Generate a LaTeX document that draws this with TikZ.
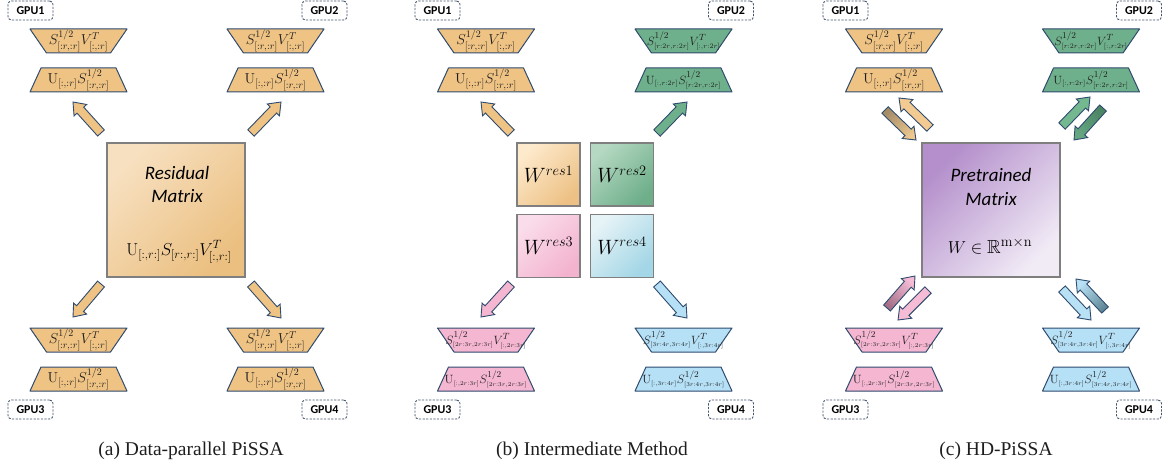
\documentclass[tikz,border=0pt]{standalone}
\usepackage{amsmath,amssymb}
\usepackage[no-math]{fontspec}
\setmainfont{Liberation Serif}
\newfontfamily\calibrifont{Carlito}
\usetikzlibrary{calc}

\definecolor{navy}{HTML}{2F4B6E}
\definecolor{gpuline}{HTML}{44546A}
\definecolor{boxline}{HTML}{7F7F7F}
\definecolor{inkc}{HTML}{1E1E1E}
\definecolor{orangeF}{HTML}{EFC384}
\definecolor{greenF}{HTML}{6FB08C}
\definecolor{pinkF}{HTML}{F4B6D0}
\definecolor{blueF}{HTML}{B5E0F6}
\definecolor{resLight}{HTML}{F7E0C0}
\definecolor{resDark}{HTML}{EBBF80}
\definecolor{purDark}{HTML}{B48FCB}
\definecolor{purLight}{HTML}{F1EBF6}
\definecolor{wOneL}{HTML}{FDE9CB}
\definecolor{wOneD}{HTML}{EDC185}
\definecolor{wTwoL}{HTML}{B5D8C2}
\definecolor{wTwoD}{HTML}{6EAF8A}
\definecolor{wThreeL}{HTML}{FADDEA}
\definecolor{wThreeD}{HTML}{F3B3CF}
\definecolor{wFourL}{HTML}{E6F3F7}
\definecolor{wFourD}{HTML}{A3D6E6}
\definecolor{oLight}{HTML}{F2CA92}
\definecolor{oDark}{HTML}{A58B66}
\definecolor{oHead}{HTML}{ECC78E}
\definecolor{gLight}{HTML}{74B890}
\definecolor{gDark}{HTML}{4A8463}
\definecolor{gHead}{HTML}{66A782}
\definecolor{pLight}{HTML}{F6BCD5}
\definecolor{pDark}{HTML}{A56F88}
\definecolor{bLight}{HTML}{B9E1F5}
\definecolor{bDark}{HTML}{5F8797}

% wide side on top
\newcommand\trapdown[4]{%
  \begin{scope}[shift={(#2)}]
    \path[trapline,fill=#3] (-48.5,-12) -- (48.5,-12) -- (32,12) -- (-32,12) -- cycle;
    \node[traplabel] (#1) at (0,0) {#4};
  \end{scope}}
% wide side at the bottom
\newcommand\trapup[4]{%
  \begin{scope}[shift={(#2)}]
    \path[trapline,fill=#3] (-37.5,-12) -- (37.5,-12) -- (48.5,12) -- (-48.5,12) -- cycle;
    \node[traplabel] (#1) at (0,0) {#4};
  \end{scope}}
% block arrow from a tail coordinate to a tip coordinate
\newcommand\blockarrow[3]{%
  \coordinate (hb) at ($(#2)!11pt!(#1)$);
  \path[arrowline,#3] ($(#1)!4.5pt!90:(#2)$) -- ($(hb)!4.5pt!90:(#2)$)
    -- ($(hb)!8.5pt!90:(#2)$) -- (#2) -- ($(hb)!8.5pt!-90:(#2)$)
    -- ($(hb)!4.5pt!-90:(#2)$) -- ($(#1)!4.5pt!-90:(#2)$) -- cycle;}
% index set in a fixed small size
\newcommand\ssub[2]{\mbox{\fontsize{#1}{#1}\selectfont$#2$}}

\newcommand\orangeTop{\fontsize{14}{14}\selectfont$S^{1/2}_{[:r,:r]}V^{T}_{[:,:r]}$}
\newcommand\orangeBot{\fontsize{14}{14}\selectfont$\mathrm{U}_{[:,:r]}S^{1/2}_{[:r,:r]}$}
\newcommand\greenTop{\fontsize{13}{13}\selectfont$S^{1/2}_{\ssub{7.2}{[r{:}2r{,}r{:}2r]}}V^{T}_{\ssub{7.2}{[{:}{,}r{:}2r]}}$}
\newcommand\greenBot{\fontsize{13}{13}\selectfont$\mathrm{U}_{\ssub{7.2}{[{:}{,}r{:}2r]}}S^{1/2}_{\ssub{7.2}{[r{:}2r{,}r{:}2r]}}$}
\newcommand\pinkTop{\fontsize{12.5}{12.5}\selectfont$S^{1/2}_{\ssub{6.3}{[2r{:}3r{,}2r{:}3r]}}V^{T}_{\ssub{6.3}{[{:}{,}2r{:}3r]}}$}
\newcommand\pinkBot{\fontsize{12.5}{12.5}\selectfont$\mathrm{U}_{\ssub{6.3}{[{:}{,}2r{:}3r]}}S^{1/2}_{\ssub{6.3}{[2r{:}3r{,}2r{:}3r]}}$}
\newcommand\blueTop{\fontsize{12.5}{12.5}\selectfont$S^{1/2}_{\ssub{6.3}{[3r{:}4r{,}3r{:}4r]}}V^{T}_{\ssub{6.3}{[{:}{,}3r{:}4r]}}$}
\newcommand\blueBot{\fontsize{12.5}{12.5}\selectfont$\mathrm{U}_{\ssub{6.3}{[{:}{,}3r{:}4r]}}S^{1/2}_{\ssub{6.3}{[3r{:}4r{,}3r{:}4r]}}$}

\begin{document}
\begin{tikzpicture}[x=1pt,y=-1pt,
  trapline/.style={draw=navy,line width=1pt,line join=round},
  traplabel/.style={inner sep=0pt,text=inkc},
  arrowline/.style={draw=navy,line width=0.9pt,line join=miter},
  gpu/.style={draw=gpuline,fill=white,line width=0.9pt,dash pattern=on 2.2pt off 1.4pt,
    rounded corners=3.5pt,minimum width=45pt,minimum height=19pt,inner sep=0pt,
    font=\calibrifont\bfseries\fontsize{12}{12}\selectfont},
  bigbox/.style={draw=boxline,line width=1.3pt,minimum width=138pt,minimum height=134pt,inner sep=0pt},
  wbox/.style={draw=boxline,line width=1.3pt,minimum size=63pt,inner sep=0pt},
  boxtitle/.style={anchor=base,inner sep=0pt,font=\calibrifont\itshape\fontsize{19}{19}\selectfont},
  boxmath/.style={anchor=base,inner sep=0pt,font=\fontsize{18}{18}\selectfont},
  wlabel/.style={inner sep=0pt,font=\fontsize{21}{21}\selectfont},
  caption/.style={anchor=base,inner sep=0pt,text=inkc,font=\fontsize{19.5}{20}\selectfont}]
\useasboundingbox (0,0) rectangle (1166,468);

% ---------------- (a) Data-parallel PiSSA ----------------
\node[gpu] (aG1) at (30.5,10.5) {GPU1};
\node[gpu] (aG2) at (324.5,10.5) {GPU2};
\node[gpu] (aG3) at (30.5,409.5) {GPU3};
\node[gpu] (aG4) at (324.5,409.5) {GPU4};
\trapdown{aS1}{78.5,41}{orangeF}{\orangeTop}
\trapup{aU1}{78.5,80}{orangeF}{\orangeBot}
\trapdown{aS2}{275.5,41}{orangeF}{\orangeTop}
\trapup{aU2}{275.5,80}{orangeF}{\orangeBot}
\trapdown{aS3}{78.5,340}{orangeF}{\orangeTop}
\trapup{aU3}{78.5,379}{orangeF}{\orangeBot}
\trapdown{aS4}{275.5,340}{orangeF}{\orangeTop}
\trapup{aU4}{275.5,379}{orangeF}{\orangeBot}
\node[bigbox,top color=resLight,bottom color=resDark,shading angle=45] (resid) at (176,210) {};
\node[boxtitle] (residT1) at (177,179) {Residual};
\node[boxtitle] (residT2) at (177,202) {Matrix};
\node[boxmath] (residF) at (179,255) {$\mathrm{U}_{[:,r:]}S_{[r:,r:]}V^{T}_{[:,r:]}$};
\coordinate (aT1) at (101,133); \coordinate (aH1) at (73,102);
\coordinate (aT2) at (251,133); \coordinate (aH2) at (281,102);
\coordinate (aT3) at (101,284); \coordinate (aH3) at (73,317);
\coordinate (aT4) at (251,284); \coordinate (aH4) at (281,318);
\blockarrow{aT1}{aH1}{fill=orangeF}
\blockarrow{aT2}{aH2}{fill=orangeF}
\blockarrow{aT3}{aH3}{fill=orangeF}
\blockarrow{aT4}{aH4}{fill=orangeF}
\node[caption] (capA) at (191,455) {(a) Data-parallel PiSSA};

% ---------------- (b) Intermediate Method ----------------
\node[gpu] (bG1) at (437.5,10.5) {GPU1};
\node[gpu] (bG2) at (731,10.5) {GPU2};
\node[gpu] (bG3) at (437.5,409.5) {GPU3};
\node[gpu] (bG4) at (731,409.5) {GPU4};
\trapdown{bS1}{486,41}{orangeF}{\orangeTop}
\trapup{bU1}{486,80}{orangeF}{\orangeBot}
\trapdown{bS2}{683.5,41}{greenF}{\greenTop}
\trapup{bU2}{683.5,80}{greenF}{\greenBot}
\trapdown{bS3}{486,340}{pinkF}{\pinkTop}
\trapup{bU3}{486,379}{pinkF}{\pinkBot}
\trapdown{bS4}{683.5,340}{blueF}{\blueTop}
\trapup{bU4}{683.5,379}{blueF}{\blueBot}
\node[wbox,top color=wOneL,bottom color=wOneD,shading angle=45] (w1) at (548.5,174.5) {};
\node[wbox,top color=wTwoL,bottom color=wTwoD,shading angle=45] (w2) at (622,174.5) {};
\node[wbox,top color=wThreeL,bottom color=wThreeD,shading angle=45] (w3) at (548.5,246) {};
\node[wbox,top color=wFourL,bottom color=wFourD,shading angle=45] (w4) at (622,246) {};
\node[wlabel] (w1t) at (w1) {$W^{res1}$};
\node[wlabel] (w2t) at (w2) {$W^{res2}$};
\node[wlabel] (w3t) at (w3) {$W^{res3}$};
\node[wlabel] (w4t) at (w4) {$W^{res4}$};
\coordinate (bT1) at (511,133); \coordinate (bH1) at (481,102);
\coordinate (bT2) at (657,133); \coordinate (bH2) at (687,102);
\coordinate (bT3) at (511,284); \coordinate (bH3) at (481,317);
\coordinate (bT4) at (657,284); \coordinate (bH4) at (687,318);
\blockarrow{bT1}{bH1}{fill=orangeF}
\blockarrow{bT2}{bH2}{fill=greenF}
\blockarrow{bT3}{bH3}{fill=pinkF}
\blockarrow{bT4}{bH4}{fill=blueF}
\node[caption] (capB) at (592,455) {(b) Intermediate Method};

% ---------------- (c) HD-PiSSA ----------------
\node[gpu] (cG1) at (845.5,10.5) {GPU1};
\node[gpu] (cG2) at (1139,10.5) {GPU2};
\node[gpu] (cG3) at (845.5,409.5) {GPU3};
\node[gpu] (cG4) at (1139,409.5) {GPU4};
\trapdown{cS1}{894,41}{orangeF}{\orangeTop}
\trapup{cU1}{894,80}{orangeF}{\orangeBot}
\trapdown{cS2}{1091,41}{greenF}{\greenTop}
\trapup{cU2}{1091,80}{greenF}{\greenBot}
\trapdown{cS3}{894,340}{pinkF}{\pinkTop}
\trapup{cU3}{894,379}{pinkF}{\pinkBot}
\trapdown{cS4}{1091,340}{blueF}{\blueTop}
\trapup{cU4}{1091,379}{blueF}{\blueBot}
\node[bigbox,top color=purDark,bottom color=purLight,shading angle=45] (pre) at (991,210) {};
\node[boxtitle] (preT1) at (991,181) {Pretrained};
\node[boxtitle] (preT2) at (991,205) {Matrix};
\node[boxmath,font=\fontsize{19}{19}\selectfont] (preF) at (990,253) {$W\in\mathbb{R}^{\mathrm{m\times n}}$};
% gather (light) and scatter (shaded) arrow pairs
\coordinate (cT1) at (930,128);  \coordinate (cH1) at (899,98);
\coordinate (cT1d) at (885,110); \coordinate (cH1d) at (916,140);
\coordinate (cT2) at (1062,126); \coordinate (cH2) at (1090,97);
\coordinate (cT2d) at (1103,108); \coordinate (cH2d) at (1074,140);
\coordinate (cT3) at (928,290);  \coordinate (cH3) at (898,320);
\coordinate (cT3d) at (887,308); \coordinate (cH3d) at (915,276);
\coordinate (cT4) at (1062,289); \coordinate (cH4) at (1091,320);
\coordinate (cT4d) at (1105,310); \coordinate (cH4d) at (1076,279);
\blockarrow{cT1}{cH1}{fill=oLight}
\blockarrow{cT1d}{cH1d}{top color=oDark,bottom color=oHead,shading angle=45}
\blockarrow{cT2}{cH2}{fill=gLight}
\blockarrow{cT2d}{cH2d}{top color=gDark,bottom color=gHead,shading angle=-45}
\blockarrow{cT3}{cH3}{fill=pLight}
\blockarrow{cT3d}{cH3d}{top color=pLight,bottom color=pDark,shading angle=-45}
\blockarrow{cT4}{cH4}{fill=bLight}
\blockarrow{cT4d}{cH4d}{top color=bLight,bottom color=bDark,shading angle=45}
\node[caption] (capC) at (996,455) {(c) HD-PiSSA};
\end{tikzpicture}
\end{document}
